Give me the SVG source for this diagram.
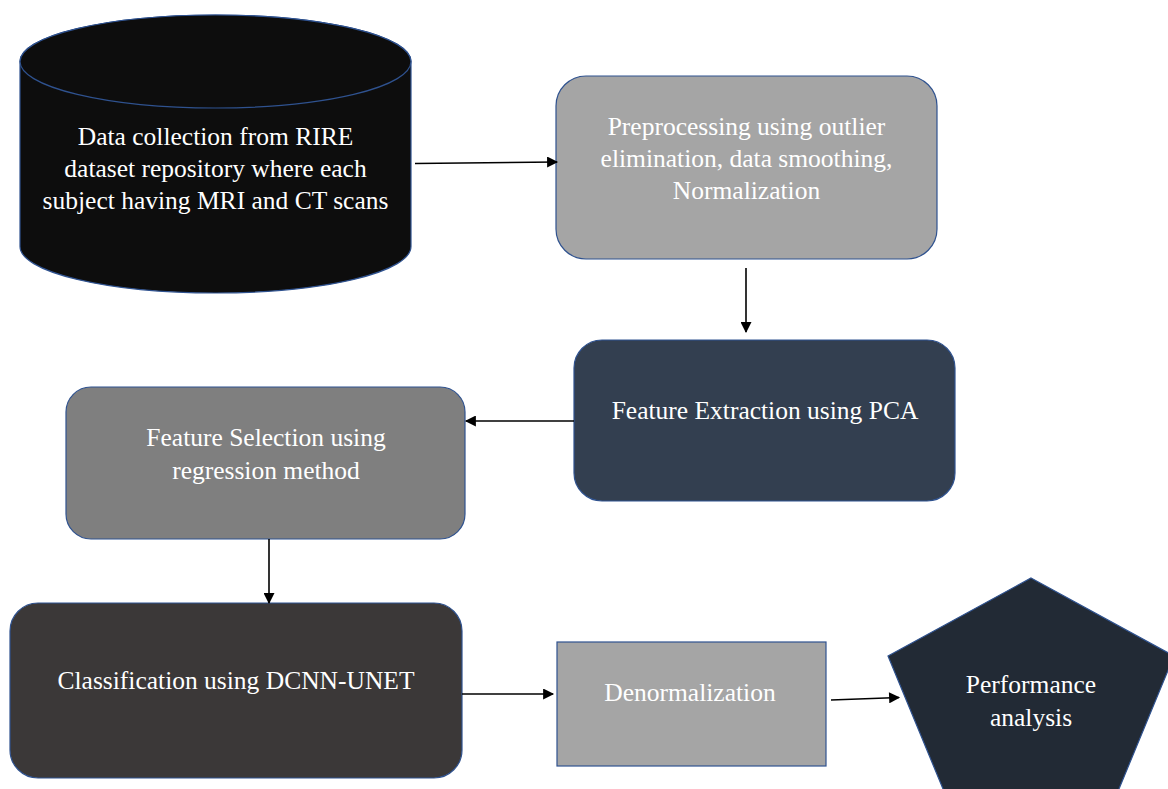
<svg xmlns="http://www.w3.org/2000/svg" width="1168" height="789" viewBox="0 0 1168 789">
  <style>
    .box { stroke: #2f528f; stroke-width: 1.2; }
    .lbl { font-family: 'Liberation Serif', serif; font-size: 25.5px; fill: #ffffff; text-anchor: middle; }
    .conn { stroke: #000000; stroke-width: 1.6; fill: none; marker-end: url(#arrow); }
  </style>
  <defs>
    <marker id="arrow" viewBox="0 0 10 10" refX="9" refY="5" markerWidth="12" markerHeight="11" markerUnits="userSpaceOnUse" orient="auto">
      <path d="M0,0 L10,5 L0,10 Z" fill="#000000"/>
    </marker>
  </defs>
  <rect x="0" y="0" width="1168" height="789" fill="#ffffff"/>

  <g id="data-collection">
    <path class="box" fill="#0d0d0d" d="M20,61.5 L20,246.5 A195.5,46.5 0 0 0 411,246.5 L411,61.5 A195.5,46.5 0 0 0 20,61.5 Z"/>
    <ellipse class="box" fill="#0d0d0d" cx="215.5" cy="61.5" rx="195.5" ry="46.5"/>
    <text class="lbl" x="215.5" y="145">Data collection from RIRE</text>
    <text class="lbl" x="215.5" y="177">dataset repository where each</text>
    <text class="lbl" x="215.5" y="209">subject having MRI and CT scans</text>
  </g>

  <g id="preprocessing">
    <rect class="box" fill="#a5a5a5" x="556" y="76" width="381" height="183" rx="30" ry="30"/>
    <text class="lbl" x="746.5" y="135">Preprocessing using outlier</text>
    <text class="lbl" x="746.5" y="167">elimination, data smoothing,</text>
    <text class="lbl" x="746.5" y="199">Normalization</text>
  </g>

  <g id="feature-extraction">
    <rect class="box" fill="#333f50" x="574" y="340" width="381" height="161" rx="28" ry="28"/>
    <text class="lbl" x="765" y="419">Feature Extraction using PCA</text>
  </g>

  <g id="feature-selection">
    <rect class="box" fill="#7f7f7f" x="66" y="387" width="399" height="152" rx="25" ry="25"/>
    <text class="lbl" x="266" y="446">Feature Selection using</text>
    <text class="lbl" x="266" y="479">regression method</text>
  </g>

  <g id="classification">
    <rect class="box" fill="#3b3838" x="10" y="603" width="452" height="175" rx="28" ry="28"/>
    <text class="lbl" x="236" y="689">Classification using DCNN-UNET</text>
  </g>

  <g id="denormalization">
    <rect class="box" fill="#a5a5a5" x="557" y="642" width="269" height="124"/>
    <text class="lbl" x="690" y="701">Denormalization</text>
  </g>

  <g id="performance-analysis">
    <polygon class="box" fill="#222a35" points="1031,578 1174,656 1102,830 960,830 888,656"/>
    <text class="lbl" x="1031" y="693">Performance</text>
    <text class="lbl" x="1031" y="726">analysis</text>
  </g>

  <g id="connectors">
    <line class="conn" x1="415" y1="163.5" x2="557" y2="162"/>
    <line class="conn" x1="746" y1="268" x2="746" y2="332"/>
    <line class="conn" x1="574" y1="421" x2="466" y2="421"/>
    <line class="conn" x1="269" y1="539" x2="269" y2="603"/>
    <line class="conn" x1="462" y1="694" x2="553" y2="694"/>
    <line class="conn" x1="831" y1="700" x2="899" y2="697.5"/>
  </g>
</svg>
